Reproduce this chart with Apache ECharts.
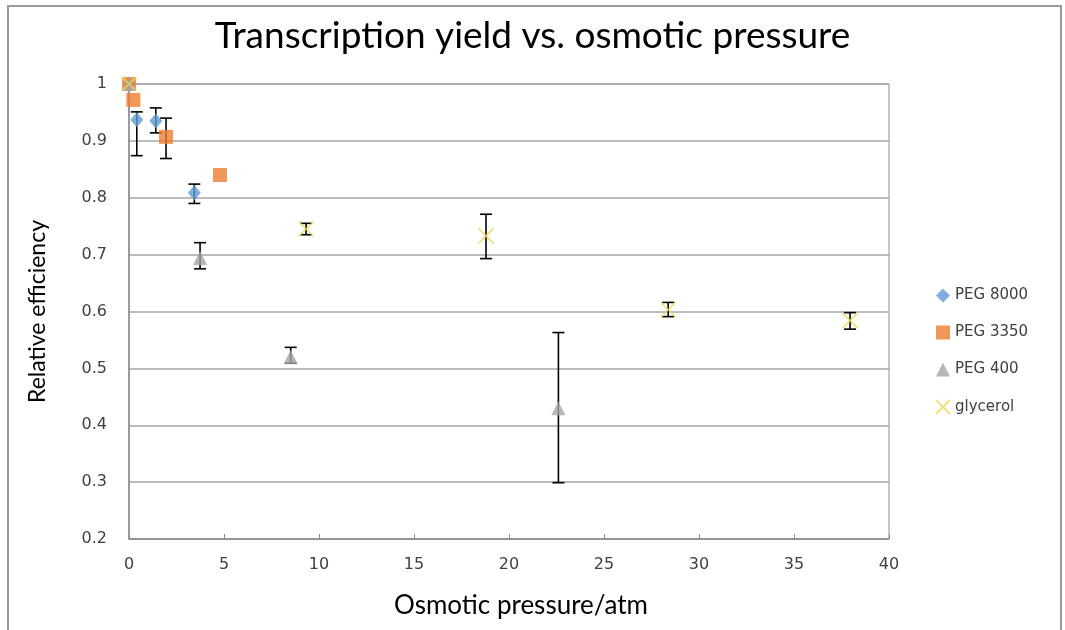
<!DOCTYPE html>
<html>
<head>
<meta charset="utf-8">
<style>
  html, body { margin: 0; padding: 0; background: #fff; }
  #chart { width: 1065px; height: 630px; }
</style>
<script src="https://cdn.jsdelivr.net/npm/echarts@6/dist/echarts.min.js"></script>
</head>
<body>
<div id="chart"></div>
<script>
// points: [osmotic pressure, relative efficiency]
var peg8000 = [[0, 1.0], [0.41, 0.937], [1.41, 0.935], [3.44, 0.809]];
var peg3350 = [[0, 1.0], [0.23, 0.972], [1.95, 0.907], [4.79, 0.840]];
var peg400 = [[0, 1.0], [3.74, 0.694], [8.51, 0.520], [22.6, 0.430]];
var glycerol = [[0, 1.0], [9.32, 0.745], [18.79, 0.733], [28.38, 0.603], [37.95, 0.584]];

// error bars: [x, low, high]
var errBars = [
  [0.41, 0.874, 0.951],
  [1.41, 0.914, 0.958],
  [3.44, 0.790, 0.824],
  [1.95, 0.869, 0.940],
  [3.74, 0.675, 0.721],
  [8.51, 0.509, 0.537],
  [22.6, 0.299, 0.563],
  [9.32, 0.735, 0.755],
  [18.79, 0.693, 0.771],
  [28.38, 0.591, 0.616],
  [37.95, 0.569, 0.598]
];

var legendNames = ['PEG 8000', 'PEG 3350', 'PEG 400', 'glycerol'];
var tickFont = 'DejaVu Sans';
var titleFont = 'Lato';
var crossIcon = 'path://M0,0L10,10M10,0L0,10';

function renderErr(params, api) {
  var x = api.value(0);
  var lo = api.coord([x, api.value(1)]);
  var hi = api.coord([x, api.value(2)]);
  var w = 6;
  var st = { stroke: '#000', lineWidth: 1.6, fill: null };
  return {
    type: 'group',
    children: [
      { type: 'line', shape: { x1: lo[0], y1: lo[1], x2: hi[0], y2: hi[1] }, style: st },
      { type: 'line', shape: { x1: lo[0] - w, y1: lo[1], x2: lo[0] + w, y2: lo[1] }, style: st },
      { type: 'line', shape: { x1: hi[0] - w, y1: hi[1], x2: hi[0] + w, y2: hi[1] }, style: st }
    ]
  };
}

var myChart = echarts.init(document.getElementById('chart'), null, { renderer: 'canvas' });
var option = {
  animation: false,
  backgroundColor: '#fff',
  title: {
    text: 'Transcription yield vs. osmotic pressure',
    left: 'center',
    top: 13,
    textStyle: { fontFamily: titleFont, fontSize: 37, fontWeight: 'normal', color: '#000' }
  },
  graphic: [{
    type: 'rect',
    shape: { x: 8, y: 6, width: 1053, height: 640 },
    style: { fill: null, stroke: '#9a9a9a', lineWidth: 2 },
    silent: true
  }],
  legend: {
    orient: 'vertical',
    left: 930,
    top: 283,
    itemGap: 22,
    itemWidth: 14,
    itemHeight: 14,
    data: legendNames,
    textStyle: { fontFamily: tickFont, fontSize: 15, color: '#404040' }
  },
  grid: {
    left: 129,
    right: 176,
    top: 84,
    bottom: 91,
    show: true,
    borderColor: '#8c8c8c',
    borderWidth: 1
  },
  xAxis: {
    type: 'value',
    min: 0,
    max: 40,
    interval: 5,
    name: 'Osmotic pressure/atm',
    nameLocation: 'middle',
    nameGap: 54,
    nameTextStyle: { fontFamily: titleFont, fontSize: 26, color: '#000', padding: [0, 0, 0, 24] },
    axisLine: { show: true, lineStyle: { color: '#8c8c8c', width: 1.5 } },
    axisTick: { show: true, inside: true, length: 5, lineStyle: { color: '#8c8c8c' } },
    splitLine: { show: false },
    axisLabel: { fontFamily: tickFont, fontSize: 16, color: '#404040', margin: 18 }
  },
  yAxis: {
    type: 'value',
    min: 0.2,
    max: 1,
    interval: 0.1,
    name: 'Relative efficiency',
    nameLocation: 'middle',
    nameGap: 80,
    nameRotate: 90,
    nameTextStyle: { fontFamily: titleFont, fontSize: 23, color: '#000' },
    axisLine: { show: true, lineStyle: { color: '#8c8c8c', width: 1.5 } },
    axisTick: { show: false },
    splitLine: { show: true, lineStyle: { color: '#a6a6a6', width: 1.5 } },
    axisLabel: {
      fontFamily: tickFont, fontSize: 16, color: '#404040', margin: 22,
      formatter: function (v) { return String(Math.round(v * 10) / 10); }
    }
  },
  series: [{
    name: 'errors',
    type: 'custom',
    renderItem: renderErr,
    encode: { x: 0, y: [1, 2] },
    data: errBars,
    z: 1,
    silent: true
  }, {
    name: 'PEG 8000',
    type: 'scatter',
    data: peg8000,
    symbol: 'diamond',
    symbolSize: [13, 15],
    itemStyle: { color: '#5B9BD5' },
    z: 2
  }, {
    name: 'PEG 3350',
    type: 'scatter',
    data: peg3350,
    symbol: 'rect',
    symbolSize: 14,
    itemStyle: { color: '#ED7D31' },
    z: 3
  }, {
    name: 'PEG 400',
    type: 'scatter',
    data: peg400,
    symbol: 'triangle',
    symbolSize: 14,
    itemStyle: { color: '#A5A5A5' },
    z: 4
  }, {
    name: 'glycerol',
    type: 'scatter',
    data: glycerol,
    symbol: crossIcon,
    symbolSize: 15,
    itemStyle: { color: 'rgba(0,0,0,0)', borderColor: '#EBD95A', borderWidth: 1.6 },
    z: 5
  }]
};
myChart.setOption(option);
</script>
</body>
</html>
